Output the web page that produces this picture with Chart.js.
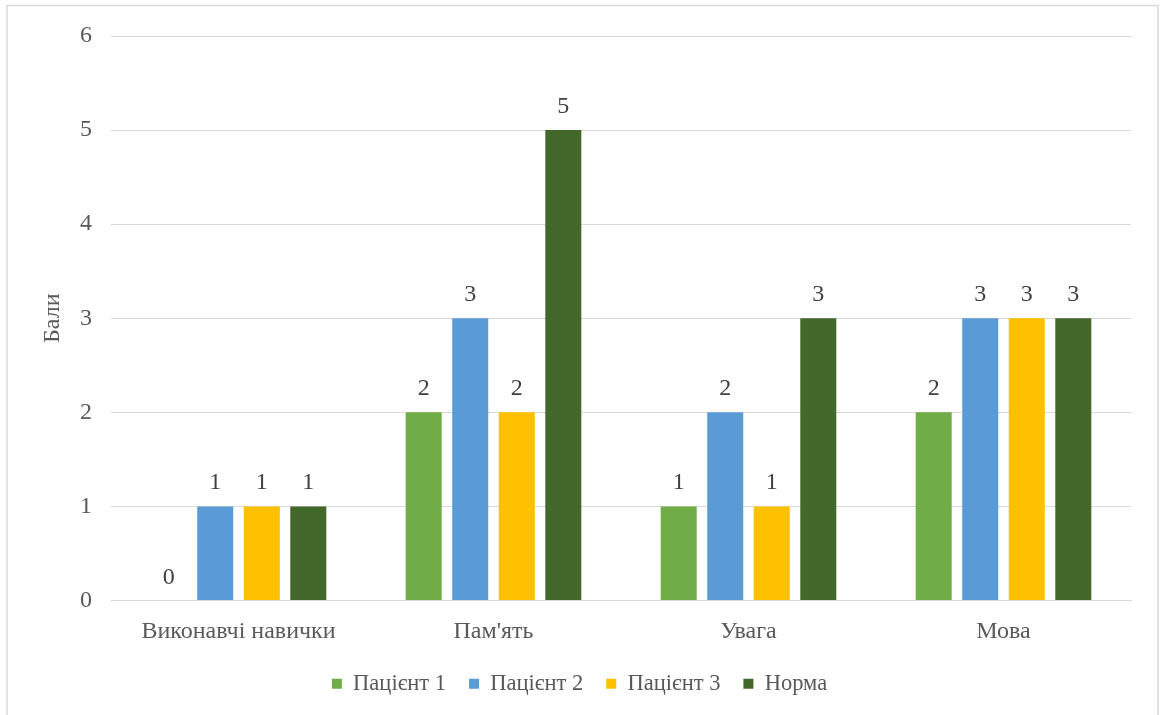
<!DOCTYPE html>
<html>
<head>
<meta charset="utf-8">
<script src="https://cdn.jsdelivr.net/npm/chart.js@4/dist/chart.umd.min.js"></script>
<style>
html,body{margin:0;padding:0;background:#fff;}
#wrap{width:1160px;height:715px;}
</style>
</head>
<body>
<div id="wrap"><canvas id="c" width="1160" height="715"></canvas></div>
<script>
const categories = ["Виконавчі навички", "Пам'ять", "Увага", "Мова"];
const patient1 = [0, 2, 1, 2];
const patient2 = [1, 3, 2, 3];
const patient3 = [1, 2, 1, 3];
const norma = [1, 5, 3, 3];
const seriesNames = ["Пацієнт 1", "Пацієнт 2", "Пацієнт 3", "Норма"];
const yTicks = [0, 1, 2, 3, 4, 5, 6];
const yTitle = "Бали";

const colors = ["#70AD47", "#5B9BD5", "#FFC000", "#43682B"];
const FONT = "'Liberation Serif', 'Times New Roman', serif";

const borderPlugin = {
  id: 'outerBorder',
  beforeDraw(chart) {
    const ctx = chart.ctx;
    ctx.save();
    ctx.fillStyle = '#ffffff';
    ctx.fillRect(0, 0, chart.width, chart.height);
    ctx.strokeStyle = '#d9d9d9';
    ctx.lineWidth = 1.5;
    ctx.strokeRect(7, 5.5, 1151, 720);
    ctx.restore();
  }
};

const labelPlugin = {
  id: 'valueLabels',
  afterDatasetsDraw(chart) {
    const ctx = chart.ctx;
    ctx.save();
    ctx.fillStyle = '#404040';
    ctx.font = "24px " + FONT;
    ctx.textAlign = 'center';
    ctx.textBaseline = 'alphabetic';
    chart.data.datasets.forEach((ds, i) => {
      const meta = chart.getDatasetMeta(i);
      meta.data.forEach((bar, j) => {
        ctx.fillText(String(ds.data[j]), bar.x, bar.y - 17);
      });
    });
    ctx.restore();
  }
};

const dataSets = [patient1, patient2, patient3, norma].map((arr, i) => ({
  label: seriesNames[i],
  data: arr,
  backgroundColor: colors[i],
  borderWidth: 0,
  categoryPercentage: 0.73,
  barPercentage: 0.774
}));

new Chart(document.getElementById('c'), {
  type: 'bar',
  data: { labels: categories, datasets: dataSets },
  plugins: [borderPlugin, labelPlugin],
  options: {
    responsive: false,
    animation: false,
    devicePixelRatio: 1,
    layout: { padding: { left: 28, right: 29, top: 36, bottom: 10 } },
    plugins: {
      tooltip: { enabled: false },
      legend: {
        position: 'bottom',
        labels: {
          color: '#595959',
          font: { family: FONT, size: 22.5 },
          boxWidth: 10,
          boxHeight: 10,
          padding: 23
        }
      }
    },
    scales: {
      x: {
        grid: { display: false, drawTicks: false },
        border: { display: true, color: '#d9d9d9', width: 1 },
        ticks: { color: '#595959', font: { family: FONT, size: 24 }, padding: 17 },
        afterFit(scale) { scale.height = 49; }
      },
      y: {
        min: 0, max: 6,
        afterBuildTicks(scale) { scale.ticks = yTicks.map(v => ({ value: v })); },
        grid: { color: '#d9d9d9', lineWidth: 1, drawTicks: false },
        border: { display: false },
        ticks: { color: '#595959', font: { family: FONT, size: 24 }, padding: 19 },
        title: { display: true, text: yTitle, color: '#595959', font: { family: FONT, size: 24 }, padding: { top: 10 } },
        afterFit(scale) { scale.width = 83; }
      }
    }
  }
});
</script>
</body>
</html>
